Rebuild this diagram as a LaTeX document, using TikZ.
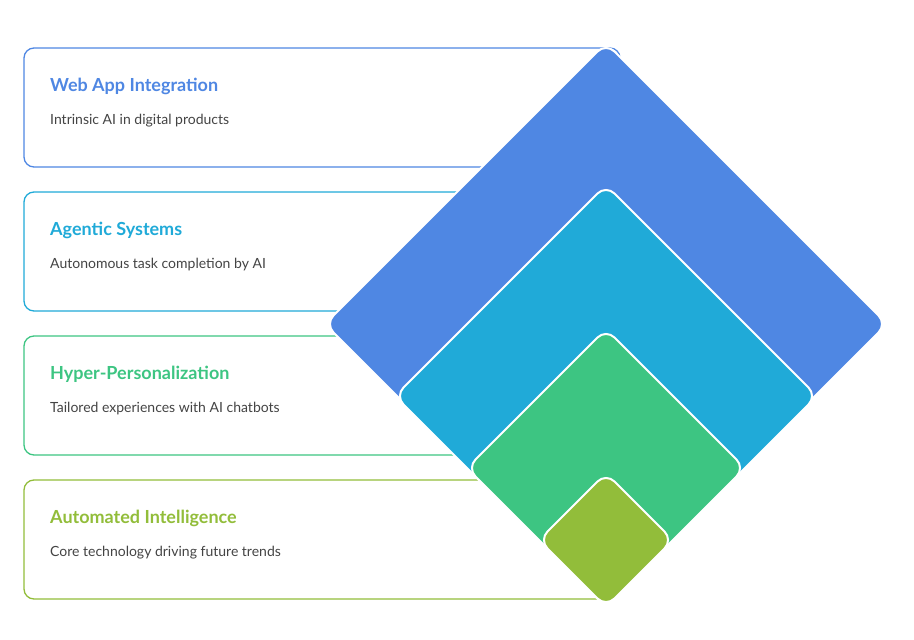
\documentclass[tikz,border=0pt]{standalone}
\usepackage{fontspec}
\setmainfont{Lato}
\definecolor{cblue}{HTML}{4F87E3}
\definecolor{ccyan}{HTML}{20AAD8}
\definecolor{cgreen}{HTML}{3DC582}
\definecolor{colive}{HTML}{92BD3A}
\definecolor{ctext}{HTML}{444444}
\begin{document}
\begin{tikzpicture}[x=1pt,y=-1pt,
  card/.style={draw=#1,line width=1.3pt,rounded corners=10pt,fill=white},
  ttl/.style={anchor=base west,text=#1,font=\bfseries\fontsize{18}{20}\selectfont,inner sep=0},
  sub/.style={anchor=base west,text=ctext,font=\fontsize{14}{16}\selectfont,inner sep=0},
  dia/.style={fill=#1,draw=white,line width=2pt,rounded corners=12pt}]
\useasboundingbox (0,0) rectangle (914,640);
\draw[card=cblue] (24,48) rectangle (620,167);
\draw[card=ccyan] (24,192) rectangle (620,311);
\draw[card=cgreen] (24,336) rectangle (620,455);
\draw[card=colive] (24,480) rectangle (620,599);
\node[ttl=cblue] (t1) at (50,91) {Web App Integration};
\node[sub] (s1) at (50,124) {Intrinsic AI in digital products};
\node[ttl=ccyan] (t2) at (50,235) {Agentic Systems};
\node[sub] (s2) at (50,268) {Autonomous task completion by AI};
\node[ttl=cgreen] (t3) at (50,379) {Hyper-Personalization};
\node[sub] (s3) at (50,412) {Tailored experiences with AI chatbots};
\node[ttl=colive] (t4) at (50,523) {Automated Intelligence};
\node[sub] (s4) at (50,556) {Core technology driving future trends};
\draw[dia=cblue] (606,43) -- (887,324) -- (606,605) -- (325,324) -- cycle;
\draw[dia=ccyan] (606,185) -- (817,396) -- (606,607) -- (395,396) -- cycle;
\draw[dia=cgreen] (606,329) -- (745,468) -- (606,607) -- (467,468) -- cycle;
\draw[dia=colive] (606,473) -- (673,540) -- (606,607) -- (539,540) -- cycle;
\end{tikzpicture}
\end{document}
